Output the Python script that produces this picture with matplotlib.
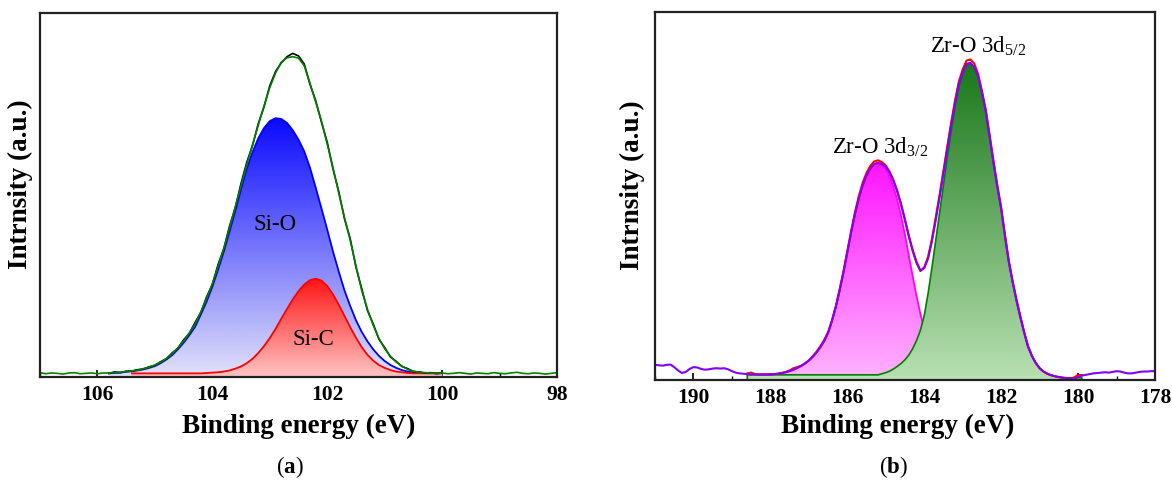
import numpy as np
import matplotlib
matplotlib.use('Agg')
import matplotlib.pyplot as plt
from matplotlib.colors import LinearSegmentedColormap
from matplotlib.ticker import MultipleLocator

plt.rcParams['font.family'] = 'Liberation Serif'
plt.rcParams['mathtext.fontset'] = 'custom'
plt.rcParams['mathtext.rm'] = 'Liberation Serif'
plt.rcParams['mathtext.bf'] = 'Liberation Serif:bold'

# ---- panel (a): Si 2p, energies 107.0 -> 98.0 eV every 0.1 eV ----
e_a = np.round(np.arange(1070, 979, -1) / 10, 1)
env_a = [1.2, 0.9, 1.1, 1.0, 0.8, 1.1, 1.2, 0.9, 1.0, 1.1, 0.9, 1.1,
         1.1, 1.2, 1.3, 1.5, 1.7, 1.9, 2.3, 2.7, 3.3, 4.1, 5.1, 6.4, 8.0, 9.9,
         12.1, 14.6, 17.9, 21.6, 25.6, 30.4, 35.4, 41.0, 46.8, 52.6, 58.4, 63.8,
         69.2, 74.5, 79.5, 83.5, 86.5, 87.7, 88.0, 87.6, 85.5, 80.7, 75.5, 70.3,
         64.0, 57.5, 50.6, 43.8, 37.6, 30.5, 23.8, 18.6, 14.2, 10.6, 7.8, 5.7,
         4.1, 3.0, 2.1, 1.6, 1.3, 1.2, 1.1, 1.0, 1.1,
         0.9, 1.0, 1.2, 1.0, 0.8, 1.1, 1.0, 0.9, 1.2, 1.0, 0.9, 1.1, 1.3, 1.0,
         0.9, 1.1, 1.0, 0.8, 1.0, 1.2]

# 105.8 -> 100.0 eV
e_core_a = np.round(np.arange(1058, 999, -1) / 10, 1)
si_o = [1.0, 1.1, 1.2, 1.4, 1.6, 1.8, 2.1, 2.5, 3.0, 3.8, 4.8, 6.0, 7.6, 9.4,
        11.5, 13.8, 17.2, 20.7, 24.8, 29.5, 34.5, 40.0, 45.7, 51.6, 57.3, 61.8,
        65.6, 68.4, 70.3, 71.1, 70.9, 69.8, 67.8, 65.2, 62.0, 57.5, 52.0, 46.3,
        40.5, 34.5, 29.0, 23.8, 19.5, 15.6, 12.4, 9.8, 7.6, 5.8, 4.4, 3.3, 2.5,
        1.9, 1.5, 1.2, 1.1, 1.0, 1.0, 1.0, 1.0]
raw_a = [1.0, 1.4, 1.2, 1.6, 1.6, 2.0, 2.2, 2.8, 3.2, 4.2, 5.0, 6.6, 7.9, 10.2,
         12.0, 15.0, 17.7, 22.0, 25.4, 30.9, 35.2, 41.5, 46.5, 53.2, 59.0, 63.6,
         69.6, 74.2, 80.0, 83.9, 86.3, 88.0, 88.9, 88.2, 86.0, 80.4, 75.9, 70.0,
         64.5, 57.2, 51.0, 43.5, 38.0, 30.2, 24.3, 18.3, 14.6, 10.4, 8.1, 5.5,
         4.3, 2.9, 2.3, 1.5, 1.4, 1.1, 1.2, 0.9, 1.1]

# 105.4 -> 100.0 eV
e_sic = np.round(np.arange(1054, 999, -1) / 10, 1)
si_c = [1.0, 1.0, 1.0, 1.0, 1.0, 1.0, 1.0, 1.0, 1.0, 1.0, 1.0, 1.0, 1.0, 1.1,
        1.2, 1.3, 1.5, 1.8, 2.3, 2.9, 3.8, 5.0, 6.6, 8.5, 10.7, 13.2, 16.0, 18.7,
        21.3, 23.6, 25.4, 26.6, 27.0, 26.5, 25.0, 22.7, 19.9, 16.8, 13.7, 10.8,
        8.2, 6.1, 4.5, 3.3, 2.5, 1.9, 1.5, 1.3, 1.1, 1.0, 1.0, 1.0, 1.0, 1.0, 1.0]

# ---- panel (b): Zr 3d, energies 191.0 -> 178.0 eV every 0.1 eV ----
e_b = np.round(np.arange(1910, 1779, -1) / 10, 1)
raw_b = [4.1, 4.0, 3.9, 4.1, 4.2, 3.5, 2.6, 1.9, 2.2, 3.0, 3.5, 3.4, 3.0, 2.8,
         2.9, 3.1, 3.2, 3.1, 3.2, 2.9, 2.4, 2.0, 1.8, 1.7,
         1.6, 1.5, 1.5, 1.5, 1.5, 1.5, 1.5, 1.6, 1.7, 1.9, 2.1, 2.4, 2.8, 3.3,
         3.8, 4.5, 5.3, 6.3, 7.5, 8.9, 10.6, 12.8, 16.0, 19.8, 24.3, 29.2, 34.6,
         40.1, 45.1, 49.4, 52.9, 55.6, 57.5, 58.7, 59.0, 58.6, 57.9, 56.3, 54.1,
         51.2, 47.6, 43.5, 39.2, 35.3, 32.1, 29.8, 30.4, 33.0, 37.7, 43.5, 49.7,
         56.2, 62.9, 69.3, 75.3, 80.4, 83.6, 85.9, 86.2, 85.1, 82.5, 78.0, 73.0,
         66.0, 59.0, 52.5, 46.5, 39.0, 32.0, 26.5, 21.5, 17.0, 12.8, 9.0, 6.5,
         4.6, 3.2, 2.3, 1.7, 1.3, 1.0, 0.8, 0.6, 0.4, 0.3, 0.4, 0.8, 1.2,
         1.4, 1.6, 1.8, 1.9, 2.0, 2.1, 2.0, 2.2, 2.4, 2.3, 2.0, 1.8, 1.8, 2.0,
         2.2, 2.3, 2.3, 2.4, 2.4]

# 188.6 -> 179.9 eV
e_core_b = np.round(np.arange(1886, 1798, -1) / 10, 1)
fit_b = [1.8, 2.0, 1.6, 1.5, 1.5, 1.5, 1.5, 1.6, 1.7, 1.9, 2.2, 2.6, 3.2, 3.5,
         3.9, 4.5, 5.3, 6.4, 7.7, 9.2, 10.9, 13.0, 16.2, 20.0, 24.6, 29.5, 35.0,
         40.5, 45.6, 50.0, 53.6, 56.3, 58.2, 59.4, 59.7, 59.2, 58.3, 56.6, 54.3,
         51.3, 47.6, 43.4, 39.0, 35.0, 31.8, 29.6, 30.6, 33.5, 38.3, 44.2, 50.4,
         56.9, 63.5, 69.9, 75.9, 81.1, 84.4, 86.8, 87.1, 86.0, 83.2, 78.6, 73.5,
         66.6, 59.6, 53.0, 46.9, 39.4, 32.3, 26.8, 21.8, 17.3, 13.0, 9.2, 6.6,
         4.6, 3.2, 2.3, 1.7, 1.3, 1.0, 0.8, 0.6, 0.5, 0.4, 0.7, 1.4, 1.3]
zr_52 = [1.4] * 35 + [1.7, 2.0, 2.4, 3.0, 3.7, 4.5, 5.5, 6.8, 8.5, 10.7, 13.5,
         17.5, 23.5, 30.5, 38.0, 45.5, 53.0, 60.5, 67.5, 74.0, 79.5, 83.0, 85.5,
         86.0, 85.0, 82.5, 78.0, 73.0, 66.0, 59.0, 52.5, 46.5, 39.0, 32.0, 26.5,
         21.5, 17.0, 12.8, 9.0, 6.5, 4.6, 3.2, 2.3, 1.7, 1.3, 1.0, 0.8, 0.7, 0.6,
         0.6, 0.6, 0.6, 0.6]

# 188.6 -> 182.5 eV
e_zr32 = np.round(np.arange(1886, 1824, -1) / 10, 1)
zr_32 = [1.4, 1.4, 1.4, 1.4, 1.5, 1.5, 1.5, 1.6, 1.7, 1.9, 2.1, 2.4, 2.8, 3.3,
         3.8, 4.5, 5.3, 6.3, 7.5, 8.9, 10.6, 12.8, 16.0, 19.8, 24.3, 29.2, 34.6,
         40.1, 45.1, 49.4, 52.9, 55.6, 57.5, 58.7, 59.0, 58.6, 57.3, 55.3, 52.5,
         48.9, 44.5, 39.4, 33.8, 28.2, 22.8, 18.0, 14.0, 10.9, 8.6, 6.9, 5.6,
         4.6, 3.8, 3.2, 2.7, 2.3, 2.0, 1.8, 1.6, 1.5, 1.4, 1.4]


def gradient_fill(ax, x, y, c_top, c_bot, z):
    poly = ax.fill_between(x, 0, y, facecolor='none', edgecolor='none', zorder=z)
    cmap = LinearSegmentedColormap.from_list('g', [c_bot, c_top])
    grad = np.linspace(0, 1, 256).reshape(-1, 1)
    im = ax.imshow(grad, cmap=cmap, aspect='auto', origin='lower',
                   extent=[min(x), max(x), 0, max(y)], zorder=z,
                   interpolation='bilinear')
    im.set_clip_path(poly.get_paths()[0], transform=ax.transData)


def style_axes(ax, xmax, xmin):
    ax.set_xlim(xmax, xmin)
    ax.set_ylim(0, 100)
    ax.set_yticks([])
    ax.xaxis.set_major_locator(MultipleLocator(2))
    ax.xaxis.set_minor_locator(MultipleLocator(1))
    ax.tick_params(axis='x', which='major', direction='in', length=5, width=1.2,
                   labelsize=15.5, pad=6)
    ax.tick_params(axis='x', which='minor', direction='in', length=3, width=1.0)
    ax.set_axisbelow(True)
    for lab in ax.get_xticklabels():
        lab.set_fontweight('bold')
    for s in ax.spines.values():
        s.set_linewidth(1.6)
        s.set_color('#222222')
        s.set_zorder(10)
    ax.set_xlabel('Binding energy (eV)', fontsize=19.5, fontweight='bold')
    ax.set_ylabel('Intrnsity (a.u.)', fontsize=19.5, fontweight='bold')


fig = plt.figure(figsize=(11.72, 4.88), dpi=100)

# panel (a)
ax1 = fig.add_axes([40 / 1172, 111 / 488, 517 / 1172, 364 / 488])
gradient_fill(ax1, e_core_a, si_o, '#0a0aff', '#e2e2fa', 1)
ax1.plot(e_core_a, si_o, color='#0000ff', lw=1.3, zorder=2)
gradient_fill(ax1, e_sic, si_c, '#ff1414', '#ffc4c4', 3)
ax1.plot(e_sic, si_c, color='#ff0000', lw=1.3, zorder=4)
ax1.plot(e_core_a, raw_a, color='black', lw=1.2, zorder=5)
ax1.plot(e_a, env_a, color='#008000', lw=1.2, zorder=6)
ax1.text(102.91, 41.8, 'Si-O', fontsize=16.5, ha='center', va='center', zorder=7)
ax1.text(102.24, 10.2, 'Si-C', fontsize=16.5, ha='center', va='center', zorder=7)
style_axes(ax1, 107, 98)
ax1.xaxis.set_label_coords(0.5, -0.1)
ax1.yaxis.set_label_coords(-0.014, 0.53)

# panel (b)
ax2 = fig.add_axes([655 / 1172, 108 / 488, 500 / 1172, 368 / 488])
gradient_fill(ax2, e_zr32, zr_32, '#ff14ff', '#ffb4ff', 1)
ax2.plot(e_zr32, zr_32, color='#ff00ff', lw=1.3, zorder=2)
gradient_fill(ax2, e_core_b, zr_52, '#1a781a', '#b8e0b2', 3)
ax2.fill_between(e_core_b, 0, zr_52, facecolor='none', edgecolor='#008000',
                 lw=1.2, zorder=4)
ax2.plot(e_core_b, fit_b, color='#ff0000', lw=1.5, zorder=5)
ax2.plot(e_b, raw_b, color='#8000ff', lw=1.5, zorder=6)
ax2.text(186.4, 61.6, r'Zr-O 3d$_{\mathregular{3/2}}$', fontsize=16.5,
         ha='left', va='baseline', zorder=7)
ax2.text(183.84, 89.2, r'Zr-O 3d$_{\mathregular{5/2}}$', fontsize=16.5,
         ha='left', va='baseline', zorder=7)
style_axes(ax2, 191, 178)
ax2.xaxis.set_label_coords(0.485, -0.092)
ax2.yaxis.set_label_coords(-0.02, 0.53)

fig.text(290 / 1172, 21 / 488, r'($\mathbf{a}$)', fontsize=16.5, ha='center', va='center')
fig.text(893 / 1172, 21 / 488, r'($\mathbf{b}$)', fontsize=16.5, ha='center', va='center')

fig.savefig('out.png', dpi=100)
